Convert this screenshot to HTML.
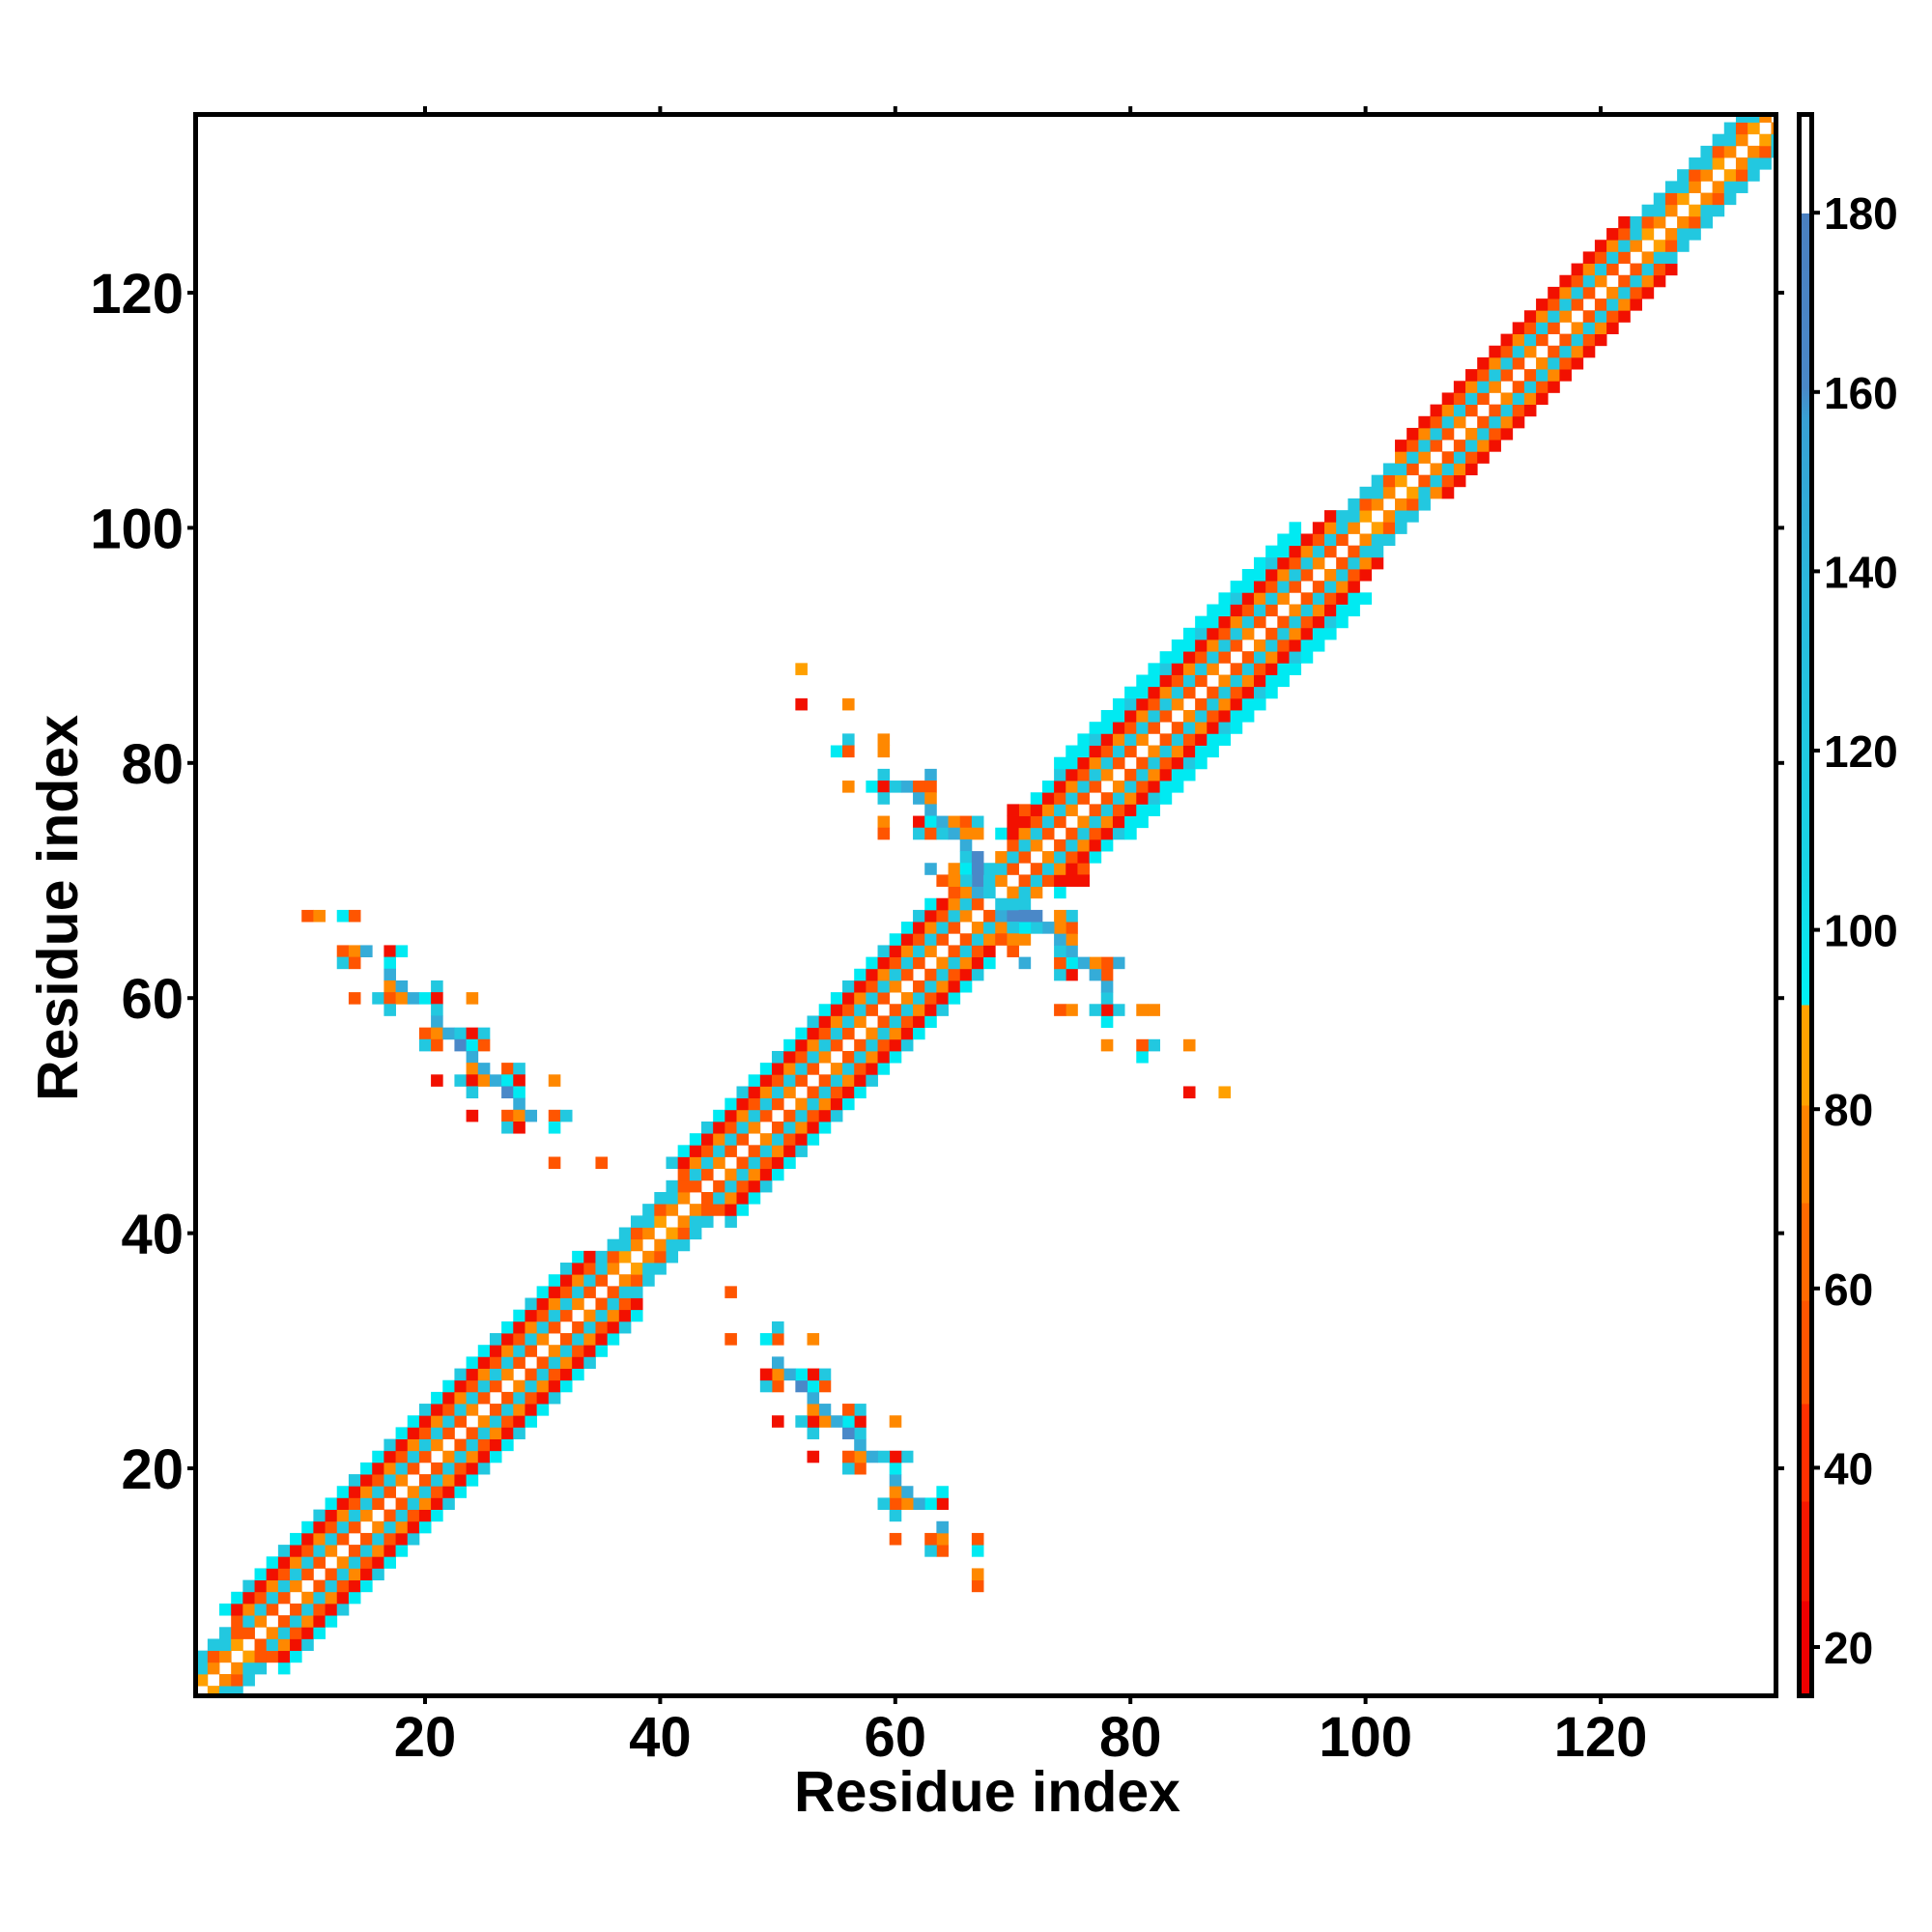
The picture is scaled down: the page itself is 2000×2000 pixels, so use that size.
<!DOCTYPE html>
<html><head><meta charset="utf-8">
<style>
html,body{margin:0;padding:0;background:#fff;}
svg{display:block;}
text{font-family:"Liberation Sans",Arial,sans-serif;font-weight:bold;fill:#000;}
</style></head>
<body>
<svg id="s" width="2000" height="2000" viewBox="0 0 2000 2000" xmlns="http://www.w3.org/2000/svg">
<defs>
<clipPath id="pc"><rect x="203" y="119" width="1636" height="1636"/></clipPath>
<linearGradient id="cg" x1="0" y1="1" x2="0" y2="0">
<stop offset="0" stop-color="#00f2f5"/>
<stop offset="0.17" stop-color="#18d6e6"/>
<stop offset="0.53" stop-color="#2bb8dc"/>
<stop offset="0.74" stop-color="#38a0d4"/>
<stop offset="0.78" stop-color="#4a88c8"/>
<stop offset="1" stop-color="#4a80c0"/>
</linearGradient>
</defs>
<g id="cells" clip-path="url(#pc)"></g>
<rect x="202.5" y="118.5" width="1636" height="1637" fill="none" stroke="#000" stroke-width="5"/>
<g id="ticks" stroke="#000" stroke-width="4"></g>
<g id="labels"></g>
<text x="1022" y="1875" font-size="59" text-anchor="middle">Residue index</text>
<text x="0" y="0" font-size="59" text-anchor="middle" transform="translate(80,940) rotate(-90)">Residue index</text>
<g id="cbar"></g>
</svg>
<script>
(function(){
var NS="http://www.w3.org/2000/svg";
function el(p,t,a,txt){var e=document.createElementNS(NS,t);for(var k in a)e.setAttribute(k,a[k]);if(txt!==undefined)e.textContent=txt;p.appendChild(e);return e;}
var cells=document.getElementById('cells');
var U=12.17;
function cx(i){return 440+(i-20)*U;}
function cy(j){return 1520-(j-20)*U;}
var C={R:'#f21000',OR:'#ff5500',O:'#ff8800',LO:'#ffa000',C:'#00eaf2',C2:'#22c8e0',S:'#35acd8',B:'#4a88c8'};
var grid={};
function put(i,j,c){grid[i+','+j]=c;}
function w(m){
 if(m<=2)return 2; if(m<=5)return 3; if(m<=36)return 5; if(m<=43)return 3;
 if(m<=66)return 5; if(m<=71)return 3; if(m<=76)return 5; if(m<=97)return 6;
 if(m<=99)return 4; if(m<=104)return 3; if(m<=124)return 4; return 3;}
function helix(m){return !((m>36&&m<=43)||(m>99&&m<=104)||m>124||m<=5);}
var HP=[null,C.OR,C.C2,C.OR,C.R,C.C,C.C,C.C];
var NP=[null,C.O,C.OR,C.C2,C.OR,C.C];
for(var i=1;i<=135;i++)for(var j=1;j<=135;j++){
 var d=Math.abs(i-j),m=(i+j)/2;
 if(d==0||d>w(m))continue;
 var c;
 if(helix(m)){c=HP[d]; if(d==3&&((i+j)%4==1))c=C.O; if(d==1&&((i+j)%6==1))c=C.O; if(d==5&&((i+j)%3==0))c=C.C2;}
 else {c=NP[d]; if(d==2&&((i+j)%4==0))c=C.C2; if(d==1&&((i+j)%3==0))c=C.LO;}
 put(i,j,c);
}
var S=[
[10,67,'OR'],[11,67,'O'],[13,67,'C'],[14,67,'OR'],
[13,64,'OR'],[14,64,'O'],[15,64,'S'],[17,64,'R'],[18,64,'C'],
[13,63,'C2'],[14,63,'OR'],[17,63,'C'],[17,62,'S'],
[17,61,'O'],[18,61,'S'],[21,61,'C2'],
[14,60,'OR'],[16,60,'C2'],[17,60,'OR'],[18,60,'O'],[19,60,'S'],[20,60,'C'],[21,60,'R'],[24,60,'O'],
[17,59,'C2'],[21,59,'C2'],[21,58,'S'],
[20,57,'OR'],[21,57,'O'],[22,57,'S'],[23,57,'C2'],[24,57,'R'],[25,57,'C2'],
[20,56,'C2'],[21,56,'OR'],[23,56,'B'],[24,56,'C'],[25,56,'OR'],
[24,55,'S'],[24,54,'O'],[25,54,'S'],[27,54,'OR'],[28,54,'C2'],
[21,53,'R'],[23,53,'C2'],[24,53,'R'],[25,53,'O'],[26,53,'S'],[27,53,'C'],[28,53,'R'],[31,53,'O'],
[24,52,'C2'],[27,52,'B'],[28,52,'C'],[28,51,'S'],
[24,50,'R'],[27,50,'OR'],[28,50,'O'],[29,50,'S'],[31,50,'OR'],[32,50,'C2'],
[27,49,'C2'],[28,49,'R'],[31,49,'C'],[31,46,'OR'],[35,46,'OR'],
[52,88,'LO'],[52,85,'R'],[56,85,'O'],
[56,82,'C2'],[59,82,'O'],[55,81,'C'],[56,81,'OR'],[59,81,'O'],
[59,79,'C2'],[63,79,'S'],
[56,78,'O'],[58,78,'C'],[59,78,'R'],[60,78,'C2'],[61,78,'S'],[62,78,'OR'],[63,78,'OR'],
[59,77,'C2'],[62,77,'S'],[63,77,'O'],[63,76,'S'],
[59,75,'O'],[62,75,'R'],[63,75,'C'],[64,75,'S'],[65,75,'O'],[66,75,'OR'],[67,75,'C2'],
[59,74,'OR'],[62,74,'C2'],[63,74,'OR'],[64,74,'C2'],[65,74,'S'],[66,74,'O'],[67,74,'O'],
[66,73,'S'],[66,72,'C2'],[67,72,'B'],
[63,71,'S'],[65,71,'O'],[66,71,'C'],[67,71,'B'],[68,71,'C2'],
[66,70,'C2'],[67,70,'B'],[68,70,'C2'],[65,69,'OR'],[66,69,'O'],[67,69,'S'],[68,69,'C2'],
[64,70,'OR'],[65,70,'O'],[70,75,'R'],[71,75,'R'],[70,76,'R'],[71,76,'OR']
];
S.forEach(function(s){put(s[0],s[1],C[s[2]]);put(s[1],s[0],C[s[2]]);});
for(var k in grid){var p=k.split(','),i=+p[0],j=+p[1];
 el(cells,'rect',{x:(cx(i)-U/2).toFixed(2),y:(cy(j)-U/2).toFixed(2),width:(U+0.4).toFixed(2),height:(U+0.4).toFixed(2),fill:grid[k]});}
var tk=document.getElementById('ticks'),lb=document.getElementById('labels');
for(var v=20;v<=120;v+=20){
 var x=cx(v),y=cy(v);
 el(tk,'line',{x1:x,y1:1756,x2:x,y2:1764});
 el(tk,'line',{x1:x,y1:110,x2:x,y2:118});
 el(tk,'line',{x1:194,y1:y,x2:202,y2:y});
 el(tk,'line',{x1:1839,y1:y,x2:1847,y2:y});
 el(lb,'text',{x:x,y:1818,'font-size':58,'text-anchor':'middle'},String(v));
 el(lb,'text',{x:190,y:y+21,'font-size':58,'text-anchor':'end'},String(v));
}
var cb=document.getElementById('cbar');
function vy(v){return 1705-(v-20)*9.28;}
var segs=[[1755,1657,'#ee0000'],[1657,1554,'#f61800'],[1554,1453,'#ff3000'],[1453,1346,'#ff5500'],[1346,1245,'#ff6a00'],[1245,1144,'#ff8400'],[1144,1040,'#ffa200']];
segs.forEach(function(s){el(cb,'rect',{x:1863,y:s[1],width:12,height:s[0]-s[1]+0.5,fill:s[2]});});
el(cb,'rect',{x:1863,y:221,width:12,height:819.5,fill:'url(#cg)'});
el(cb,'rect',{x:1862.5,y:118.5,width:13,height:1637,fill:'none',stroke:'#000','stroke-width':5});
for(var v=20;v<=180;v+=20){var y=vy(v);
 el(cb,'line',{x1:1876,y1:y,x2:1884,y2:y,stroke:'#000','stroke-width':4});
 el(cb,'text',{x:1888,y:y+17,'font-size':46},String(v));}
})();
</script>
</body></html>
